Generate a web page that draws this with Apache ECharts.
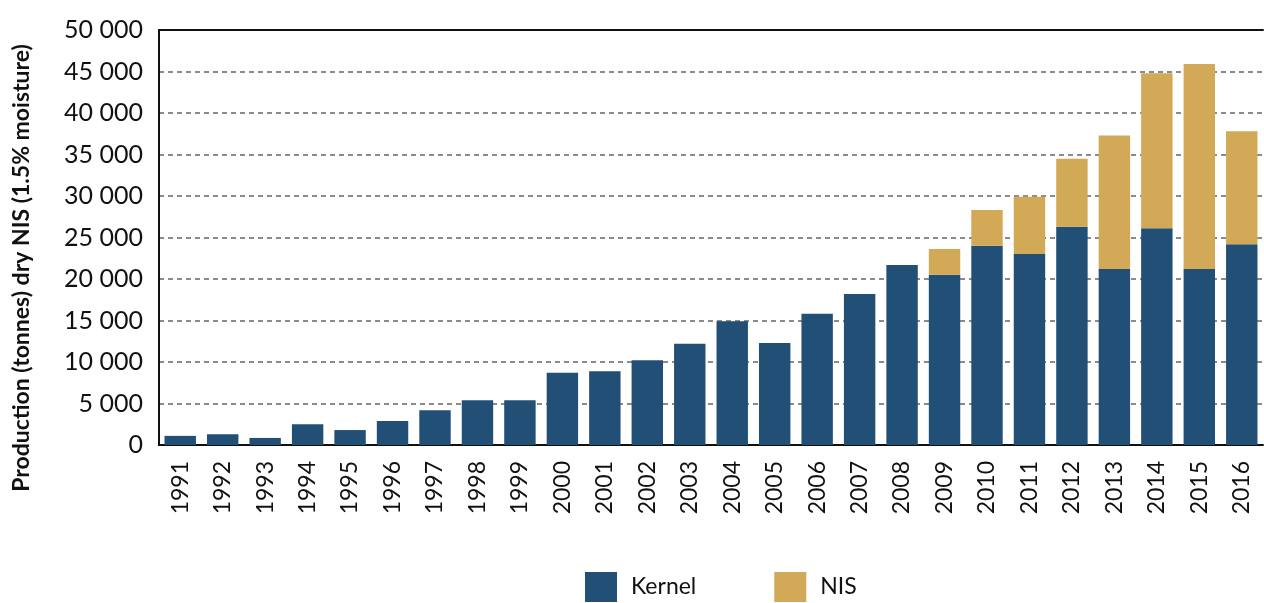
<!DOCTYPE html>
<html>
<head>
<meta charset="utf-8">
<title>Production</title>
<script src="https://cdn.jsdelivr.net/npm/echarts@6/dist/echarts.min.js"></script>
<style>
html, body { margin: 0; padding: 0; background: #fff; }
#chart { width: 1264px; height: 603px; }
</style>
</head>
<body>
<div id="chart"></div>
<script>
// years on the x axis
var years = ['1991','1992','1993','1994','1995','1996','1997','1998','1999','2000',
             '2001','2002','2003','2004','2005','2006','2007','2008','2009','2010',
             '2011','2012','2013','2014','2015','2016'];
// kernel production (tonnes)
var kernel = [1100, 1300, 850, 2500, 1800, 2900, 4200, 5400, 5400, 8700,
              8900, 10200, 12200, 14900, 12300, 15800, 18200, 21700, 20500, 24000,
              23000, 26300, 21200, 26100, 21200, 24200];
// NIS on top of kernel
var nis = [0, 0, 0, 0, 0, 0, 0, 0, 0, 0,
           0, 0, 0, 0, 0, 0, 0, 0, 3100, 4300,
           6900, 8200, 16100, 18700, 24700, 13600];
var yTicks = [0, 5000, 10000, 15000, 20000, 25000, 30000, 35000, 40000, 45000, 50000];

var font = 'Lato, "Noto Sans", sans-serif';
function fmt(v) {
    // thousands separated by a space
    return String(v).replace(/\B(?=(\d{3})+(?!\d))/g, ' ');
}

var chart = echarts.init(document.getElementById('chart'));
chart.setOption({
    animation: false,
    grid: { left: 159, right: 1, top: 30, bottom: 158, containLabel: false },
    legend: {
        bottom: -4,
        left: 580,
        itemWidth: 32,
        itemHeight: 30,
        itemGap: 78,
        icon: 'rect',
        textStyle: { fontFamily: font, fontSize: 23, color: '#111', padding: [0, 0, 0, 9] },
        data: ['Kernel', 'NIS']
    },
    xAxis: [{
        type: 'category',
        data: years,
        axisLine: { lineStyle: { color: '#111', width: 2 } },
        axisTick: { show: false },
        axisLabel: {
            rotate: 90, margin: 16, interval: 0,
            fontFamily: font, fontSize: 23, color: '#111'
        }
    }, {
        type: 'category',
        data: years,
        position: 'top',
        axisLine: { lineStyle: { color: '#111', width: 2 } },
        axisTick: { show: false },
        axisLabel: { show: false }
    }],
    yAxis: {
        type: 'value',
        min: yTicks[0],
        max: yTicks[yTicks.length - 1],
        interval: 5000,
        axisLine: { show: true, lineStyle: { color: '#111', width: 2 } },
        axisTick: { show: false },
        axisLabel: {
            margin: 16,
            fontFamily: font, fontSize: 25, color: '#111',
            formatter: fmt
        },
        splitLine: { lineStyle: { color: '#666', type: [5, 4], width: 1.5 } }
    },
    graphic: [{
        type: 'text',
        rotation: Math.PI / 2,
        x: 22, y: 268,
        style: {
            text: 'Production (tonnes) dry NIS (1.5% moisture)',
            fontFamily: font, fontWeight: 'bold', fontSize: 23, fill: '#111',
            align: 'center', verticalAlign: 'middle'
        }
    }],
    series: [{
        name: 'Kernel',
        type: 'bar',
        stack: 'total',
        barCategoryGap: '26%',
        itemStyle: { color: '#224f75' },
        data: kernel
    }, {
        name: 'NIS',
        type: 'bar',
        stack: 'total',
        itemStyle: { color: '#d2a956' },
        data: nis
    }]
});
</script>
</body>
</html>
